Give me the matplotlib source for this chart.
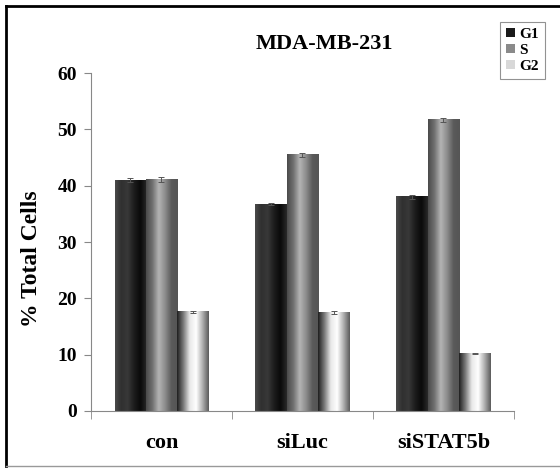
import numpy as np
import matplotlib
matplotlib.use("Agg")
import matplotlib.pyplot as plt
from matplotlib.colors import LinearSegmentedColormap
from matplotlib.patches import Patch
from matplotlib.lines import Line2D

# values
groups = ["con", "siLuc", "siSTAT5b"]
phases = ["G1", "S", "G2"]
g1 = [41.0, 36.7, 38.0]
s = [41.1, 45.5, 51.7]
g2 = [17.6, 17.5, 10.2]
g1_err = [0.4, 0.2, 0.3]
s_err = [0.4, 0.4, 0.3]
g2_err = [0.2, 0.3, 0.1]

plt.rcParams["font.family"] = ["Liberation Serif", "DejaVu Serif"]
plt.rcParams["font.weight"] = "bold"
plt.rcParams["axes.labelweight"] = "bold"

# cylinder-like shading of each series
cmaps = {
    "G1": LinearSegmentedColormap.from_list("g1", ["#4a4a4a", "#303030", "#383838", "#1c1c1c", "#0a0a0a", "#2a2a2a"]),
    "S": LinearSegmentedColormap.from_list("s", ["#4a4a4a", "#707070", "#b4b4b4", "#8c8c8c", "#5a5a5a", "#555555"]),
    "G2": LinearSegmentedColormap.from_list("g2", ["#1e1e1e", "#7a7a7a", "#e8e8e8", "#ffffff", "#b0b0b0", "#5a5a5a"]),
}
legend_colors = {"G1": "#1a1a1a", "S": "#8a8a8a", "G2": "#d8d8d8"}

fig = plt.figure(figsize=(5.6, 4.68), dpi=100)
ax = fig.add_axes([0.1625, 0.1218, 0.755, 0.722])

x = np.arange(len(groups))
w = 0.222
grad = np.linspace(0, 1, 256).reshape(1, -1)
for i, (name, vals, errs) in enumerate(zip(phases, [g1, s, g2], [g1_err, s_err, g2_err])):
    bars = ax.bar(x + (i - 1) * w, vals, w, color="none", edgecolor="none", zorder=2)
    for b in bars:
        bx, by = b.get_x(), b.get_y()
        ax.imshow(grad, extent=[bx, bx + b.get_width(), by, by + b.get_height()],
                  aspect="auto", cmap=cmaps[name], zorder=2, interpolation="bilinear")
    ax.errorbar(x + (i - 1) * w, vals, yerr=errs, fmt="none", ecolor="#555555",
                elinewidth=0.7, capsize=2, capthick=0.7, zorder=3)

ax.set_xlim(-0.5, len(groups) - 0.5)
ax.set_ylim(0, 60)
ax.set_yticks(np.arange(0, 61, 10))
ax.tick_params(axis="y", labelsize=14, length=5, color="#888888", pad=5)
ax.set_xticks(x)
ax.set_xticklabels(groups, fontsize=16)
ax.tick_params(axis="x", which="major", length=0, pad=16)
ax.set_xticks(np.arange(-0.5, len(groups), 1), minor=True)
ax.tick_params(axis="x", which="minor", length=6, color="#888888")

for side in ["top", "right"]:
    ax.spines[side].set_visible(False)
for side in ["left", "bottom"]:
    ax.spines[side].set_color("#888888")
    ax.spines[side].set_linewidth(0.8)

ax.set_ylabel("% Total Cells", fontsize=17, fontweight="bold")
ax.yaxis.set_label_coords(-0.115, 0.45)
fig.text(0.58, 0.905, "MDA-MB-231", fontsize=16, fontweight="bold", ha="center", va="center")

handles = [Patch(facecolor=legend_colors[p], edgecolor="none") for p in phases]
leg = fig.legend(handles, phases, loc="upper right", bbox_to_anchor=(0.973, 0.953),
                 borderaxespad=0, fontsize=11, frameon=True, fancybox=False, edgecolor="#777777",
                 handlelength=0.55, handleheight=0.55, handletextpad=0.3,
                 labelspacing=0.2, borderpad=0.4)
leg.get_frame().set_linewidth(0.8)

# outer frame of the picture
fig.add_artist(Line2D([6 / 560, 6 / 560], [0.004, 1 - 6 / 468], color="black", lw=2, transform=fig.transFigure))
fig.add_artist(Line2D([6 / 560, 1], [1 - 6 / 468, 1 - 6 / 468], color="black", lw=2, transform=fig.transFigure))
fig.add_artist(Line2D([6 / 560, 1], [0.004, 0.004], color="#999999", lw=1, transform=fig.transFigure))

fig.savefig("out.png", dpi=100)
